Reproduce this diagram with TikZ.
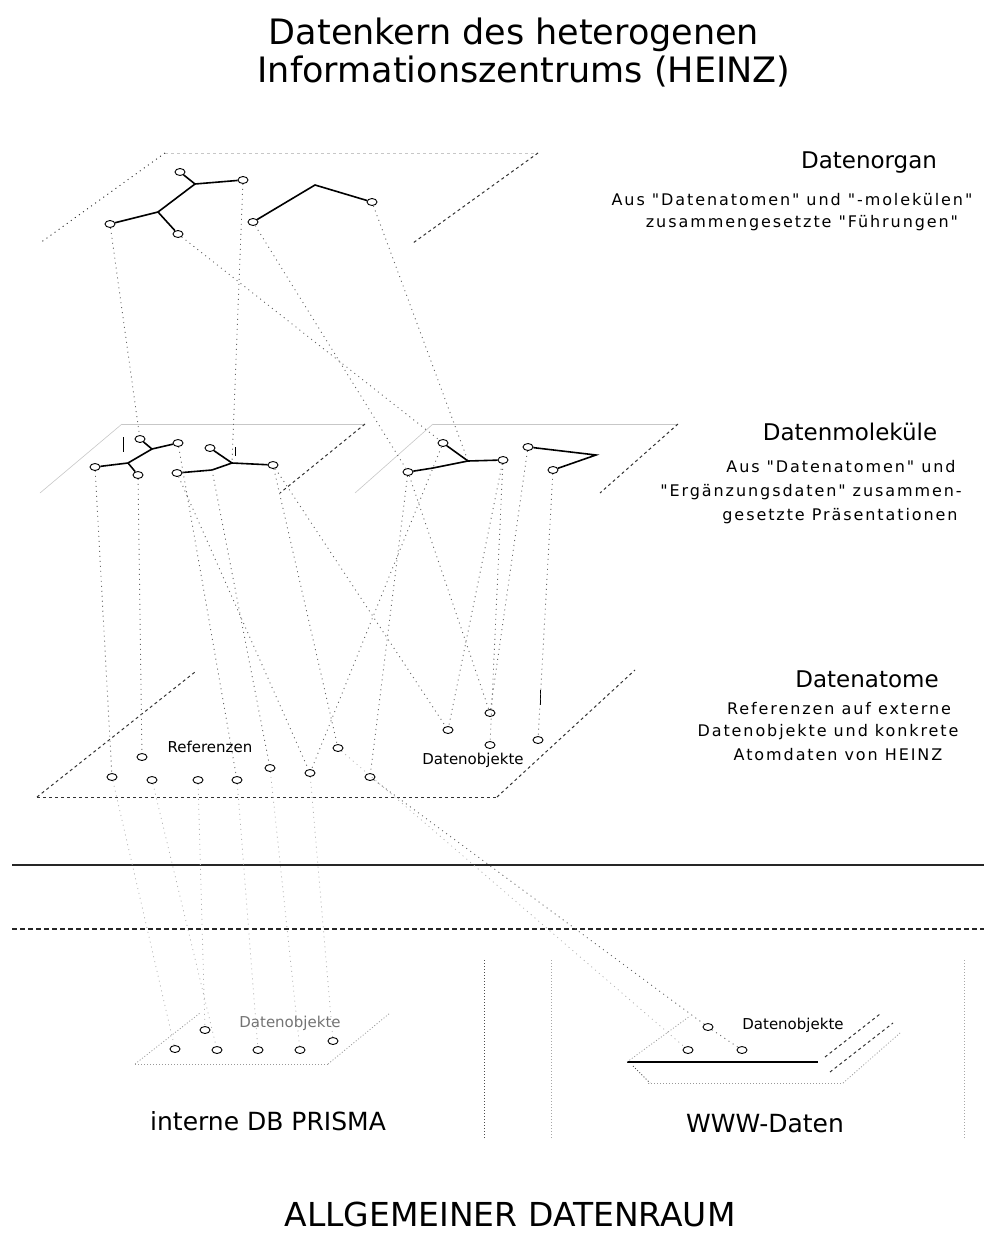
\documentclass[tikz,border=0pt]{standalone}
\usepackage{fontspec}
\setmainfont{DejaVu Sans}[Ligatures=TeXOff]
\usetikzlibrary{shapes.geometric}
\begin{document}
\begin{tikzpicture}[x=1pt,y=-1pt,
  atom/.style={ellipse,draw=black,line width=0.9pt,minimum width=10pt,minimum height=7pt,inner sep=0pt},
  bond/.style={line width=1.6pt,black},
  link/.style={line width=0.9pt,black!60,dash pattern=on 1pt off 4pt},
  faintlink/.style={line width=0.8pt,black!30,dash pattern=on 1pt off 4pt},
  lightedge/.style={line width=0.6pt,black!22},
  lightdots/.style={line width=0.8pt,black!40,dash pattern=on 1pt off 2pt},
  darkedge/.style={line width=1pt,black!80,dash pattern=on 3pt off 3pt},
  title/.style={font=\fontsize{35}{40}\selectfont},
  hdr/.style={font=\fontsize{23}{26}\selectfont},
  desc/.style={font=\fontsize{16}{19}\selectfont\addfontfeatures{LetterSpace=12}},
  planelabel/.style={font=\fontsize{15}{18}\selectfont},
  bigtext/.style={font=\fontsize{25}{30}\selectfont},
]
\useasboundingbox (0,0) rectangle (984,1238);

% ---------- title ----------
\node[title] (t1) at (514,35) {Datenkern des heterogenen};
\node[title] (t2) at (524,72) {Informationszentrums (HEINZ)};

% ---------- level labels ----------
\node[hdr]  (hOrg)  at (869,163) {Datenorgan};
\node[desc] (dOrg1) at (792,200) {Aus "Datenatomen" und "-molekülen"};
\node[desc] (dOrg2) at (802,223) {zusammengesetzte "Führungen"};

\node[hdr]  (hMol)  at (850,432) {Datenmoleküle};
\node[desc] (dMol1) at (841,467) {Aus "Datenatomen" und};
\node[desc] (dMol2) at (811,492) {"Ergänzungsdaten" zusammen-};
\node[desc] (dMol3) at (840,516) {gesetzte Präsentationen};

\node[hdr]  (hAtm)  at (867,679) {Datenatome};
\node[desc] (dAtm1) at (839,709) {Referenzen auf externe};
\node[desc] (dAtm2) at (828,732) {Datenobjekte und konkrete};
\node[desc] (dAtm3) at (838,755) {Atomdaten von HEINZ};

% ---------- planes ----------
% organ plane
\draw[lightedge,dashed] (165,153) -- (538,153);
\draw[link,black!85] (165,153) -- (40,243);
\draw[darkedge] (538,153) -- (413,243);
% molecule planes
\draw[lightedge] (122,424) -- (365,424);
\draw[lightedge] (122,424) -- (40,493);
\draw[darkedge] (365,424) -- (280,493);
\draw[lightedge] (433,424) -- (678,424);
\draw[lightedge] (433,424) -- (355,493);
\draw[darkedge] (678,424) -- (600,493);
% atom plane
\draw[darkedge] (37,797) -- (497,797);
\draw[darkedge] (37,797) -- (195,672);
\draw[darkedge] (497,797) -- (635,670);

% ---------- Datenorgan ----------
\node[atom] (oA) at (180,172) {};
\node[atom] (oB) at (243,180) {};
\node[atom] (oC) at (110,224) {};
\node[atom] (oD) at (178,234) {};
\node[atom] (oE) at (253,222) {};
\node[atom] (oF) at (372,202) {};
\coordinate (oJ1) at (195,184);
\coordinate (oJ2) at (158,212);
\coordinate (oK) at (315,185);
\draw[bond] (oJ1) -- (oA);
\draw[bond] (oJ1) -- (oB);
\draw[bond] (oJ1) -- (oJ2);
\draw[bond] (oJ2) -- (oC);
\draw[bond] (oJ2) -- (oD);
\draw[bond] (oE) -- (oK) -- (oF);

% ---------- Datenmoleküle ----------
\node[atom] (mA) at (95,467) {};
\node[atom] (mB) at (140,439) {};
\node[atom] (mC) at (178,443) {};
\node[atom] (mD) at (138,475) {};
\node[atom] (mE) at (210,448) {};
\node[atom] (mF) at (273,465) {};
\node[atom] (mG) at (177,473) {};
\coordinate (mJ1) at (152,449);
\coordinate (mJ2) at (128,463);
\coordinate (mJ3) at (232,463);
\coordinate (mJ4) at (212,470);
\coordinate (mT1a) at (123,437);
\coordinate (mT1b) at (123,452);
\coordinate (mT2a) at (235,447);
\coordinate (mT2b) at (235,456);
\draw[bond] (mB) -- (mJ1) -- (mC);
\draw[bond] (mJ1) -- (mJ2) -- (mA);
\draw[bond] (mJ2) -- (mD);
\draw[bond] (mE) -- (mJ3) -- (mF);
\draw[bond] (mJ3) -- (mJ4) -- (mG);
\draw[line width=1pt] (mT1a) -- (mT1b);
\draw[line width=1pt] (mT2a) -- (mT2b);

\node[atom] (rA) at (408,472) {};
\node[atom] (rC) at (443,443) {};
\node[atom] (rE) at (503,460) {};
\node[atom] (rD) at (528,447) {};
\node[atom] (rF) at (553,470) {};
\coordinate (rJ) at (468,461);
\coordinate (rJ2) at (433,468);
\coordinate (rTip) at (596,455);
\draw[bond] (rC) -- (rJ) -- (rE);
\draw[bond] (rJ) -- (rJ2) -- (rA);
\draw[bond] (rD) -- (rTip) -- (rF);

% ---------- Datenatome ----------
\node[atom] (a1) at (112,777) {};
\node[atom] (a2) at (142,757) {};
\node[atom] (a3) at (152,780) {};
\node[atom] (a4) at (198,780) {};
\node[atom] (a5) at (237,780) {};
\node[atom] (a6) at (270,768) {};
\node[atom] (a7) at (310,773) {};
\node[atom] (a8) at (338,748) {};
\node[atom] (a9) at (370,777) {};
\node[atom] (a10) at (448,730) {};
\node[atom] (a11) at (490,713) {};
\node[atom] (a12) at (490,745) {};
\node[atom] (a13) at (538,740) {};
\node[planelabel] (lRef) at (210,747) {Referenzen};
\node[planelabel] (lObj) at (473,760) {Datenobjekte};
\coordinate (aT1) at (540,690);
\coordinate (aT2) at (540,705);
\draw[line width=1pt] (aT1) -- (aT2);

% ---------- links organ -> molecules ----------
\draw[link] (oC) -- (mB);
\draw[link] (oB) -- (mJ3);
\draw[link] (oD) -- (rC);
\draw[link] (oE) -- (rA);
\draw[link] (oF) -- (rJ);

% ---------- links molecules -> atoms ----------
\draw[link] (mA) -- (a1);
\draw[link] (mC) -- (a5);
\draw[link] (mJ4) -- (a6);
\draw[link] (mG) -- (a7);
\draw[link] (mF) -- (a8);
\draw[link] (mF) -- (a10);
\draw[link] (rC) -- (a7);
\draw[link] (rA) -- (a9);
\draw[link] (rA) -- (a11);
\draw[link] (rE) -- (a10);
\draw[link] (rD) -- (a11);
\draw[link] (rF) -- (a13);
\draw[link] (mD) -- (a2);
\draw[link] (rE) -- (a12);

% ---------- separators ----------
\draw[line width=1.3pt,black!85] (12,865) -- (984,865);
\draw[line width=1.3pt,black!85,dash pattern=on 5pt off 3pt] (12,929) -- (984,929);
\draw[lightdots,black!70] (484,960) -- (484,1138);
\draw[lightdots,black!35] (551,960) -- (551,1138);
\draw[lightdots,black!35] (964,960) -- (964,1138);

% ---------- interne DB PRISMA ----------
\draw[lightdots] (135,1064) -- (328,1064);
\draw[lightdots] (135,1064) -- (200,1013);
\draw[lightdots] (328,1064) -- (390,1013);
\node[atom] (p1) at (175,1049) {};
\node[atom] (p2) at (217,1050) {};
\node[atom] (p3) at (258,1050) {};
\node[atom] (p4) at (300,1050) {};
\node[atom] (p5) at (333,1041) {};
\node[atom] (p6) at (205,1030) {};
\node[planelabel,text=black!55] (lP) at (290,1023) {Datenobjekte};
\node[bigtext] (tP) at (268,1121) {interne DB PRISMA};

\draw[faintlink] (a1) -- (p1);
\draw[faintlink] (a3) -- (p2);
\draw[faintlink] (a4) -- (p6);
\draw[faintlink] (a5) -- (p3);
\draw[faintlink] (a6) -- (p4);
\draw[faintlink] (a7) -- (p5);

% ---------- WWW-Daten ----------
\draw[line width=1.6pt] (627,1062) -- (818,1062);
\draw[lightdots] (627,1062) -- (690,1016);
\draw[darkedge] (825,1057) -- (880,1014);
\draw[darkedge] (830,1072) -- (893,1023);
\draw[lightdots] (843,1083) -- (900,1033);
\draw[lightdots] (648,1083) -- (843,1083);
\draw[lightdots,black!70] (633,1066) -- (650,1083);
\node[atom] (w1) at (708,1027) {};
\node[atom] (w2) at (688,1050) {};
\node[atom] (w3) at (742,1050) {};
\node[planelabel] (lW) at (793,1025) {Datenobjekte};
\node[bigtext] (tW) at (765,1124) {WWW-Daten};

\draw[link] (a9) -- (w1);
\draw[faintlink] (a8) -- (w2);
\draw[link] (w1) -- (w3);

% ---------- footer ----------
\node[font=\fontsize{33}{38}\selectfont,anchor=base,inner sep=0pt] (tAll) at (510,1226) {ALLGEMEINER DATENRAUM};
\end{tikzpicture}
\end{document}
